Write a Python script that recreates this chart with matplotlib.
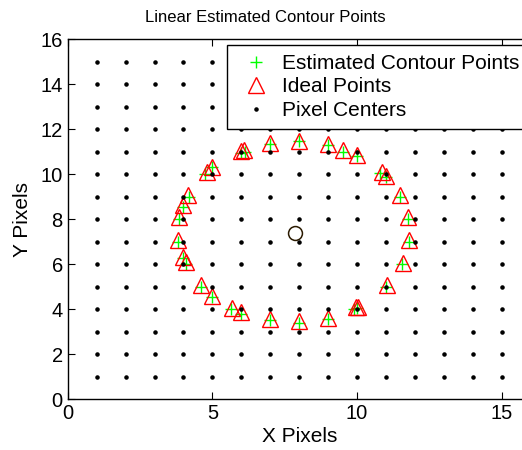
import matplotlib
matplotlib.use("Agg")
import matplotlib.pyplot as plt
import numpy as np

plt.rcParams['font.family'] = ['Liberation Sans', 'DejaVu Sans']

title = "Linear Estimated Contour Points"
xlabel = "X Pixels"
ylabel = "Y Pixels"

# Pixel center grid
grid_x = list(range(1, 16))
grid_y = list(range(1, 16))

# Ideal points (triangles)
ideal_x = [5.98, 6.10, 6.99, 8.00, 9.01, 9.52, 10.01, 10.85, 11.00, 11.49, 11.77,
           11.81, 11.58, 11.03, 9.97, 10.02, 9.01, 8.00, 6.99, 5.99, 5.69, 5.00,
           4.61, 4.08, 4.00, 3.82, 3.86, 4.00, 4.17, 4.80, 5.00]
ideal_y = [11.04, 11.07, 11.39, 11.48, 11.32, 11.07, 10.84, 10.10, 9.91, 9.07, 8.07,
           7.07, 6.06, 5.07, 4.07, 4.10, 3.59, 3.46, 3.54, 3.88, 4.03, 4.59,
           5.07, 6.08, 6.30, 7.07, 8.07, 8.62, 9.07, 10.07, 10.32]

# Estimated contour points (plus)
est_x = [6.00, 6.12, 7.00, 8.00, 9.00, 9.50, 10.00, 10.80, 11.00, 11.50, 11.75,
         11.80, 11.55, 11.00, 9.90, 10.00, 9.00, 8.00, 7.00, 6.00, 5.65, 5.00,
         4.60, 4.10, 4.00, 3.80, 3.85, 4.00, 4.20, 4.75, 5.00]
est_y = [10.95, 11.00, 11.35, 11.45, 11.28, 11.00, 10.78, 10.05, 9.85, 9.00, 8.00,
         7.00, 6.00, 5.00, 4.00, 4.05, 3.55, 3.40, 3.50, 3.80, 4.00, 4.55,
         5.00, 6.00, 6.25, 7.00, 8.00, 8.55, 9.00, 10.00, 10.30]

# Center point
center_x = [7.86]
center_y = [7.39]

fig = plt.figure(figsize=(5.22, 4.5), dpi=100)
ax = fig.add_axes([0.1297, 0.1133, 0.887, 0.8])

gx, gy = np.meshgrid(grid_x, grid_y)
h_est, = ax.plot(est_x, est_y, '+', color='#00ff00', markersize=9, mew=1,
                 linestyle='none', label='Estimated Contour Points', zorder=3)
h_ideal, = ax.plot(ideal_x, ideal_y, '^', color='red', markerfacecolor='none',
                   markersize=11, mew=1, linestyle='none', label='Ideal Points', zorder=3)
h_pix, = ax.plot(gx.ravel(), gy.ravel(), '.', color='black', markersize=4.5,
                 linestyle='none', label='Pixel Centers', zorder=4)
ax.plot(center_x, center_y, 'o', markerfacecolor='none', markeredgecolor='#2a1a00',
        markersize=10, mew=1.1, zorder=4)

ax.set_xlim(0, 16)
ax.set_ylim(0, 16)
ax.set_xticks([0, 5, 10, 15])
ax.set_yticks([0, 2, 4, 6, 8, 10, 12, 14, 16])
ax.tick_params(direction='in', length=5, top=True, right=False, labelsize=14.5, width=0.8)
ax.spines['right'].set_visible(False)
ax.set_xlabel(xlabel, fontsize=15, labelpad=3)
ax.set_ylabel(ylabel, fontsize=15, labelpad=6)
fig.text(265.5 / 522, 1 - 17 / 450, title, fontsize=12, ha='center', va='center')
for s in ax.spines.values():
    s.set_linewidth(1.0)

leg = ax.legend(handles=[h_est, h_ideal, h_pix], loc='upper left',
                bbox_to_anchor=(0.345, 0.983), borderaxespad=0, fontsize=15,
                fancybox=False, framealpha=1, edgecolor='black',
                labelspacing=0.22, borderpad=0.42, handletextpad=0.3, handlelength=1.88)
leg.get_frame().set_linewidth(1.0)

fig.savefig('out.png', dpi=100)
